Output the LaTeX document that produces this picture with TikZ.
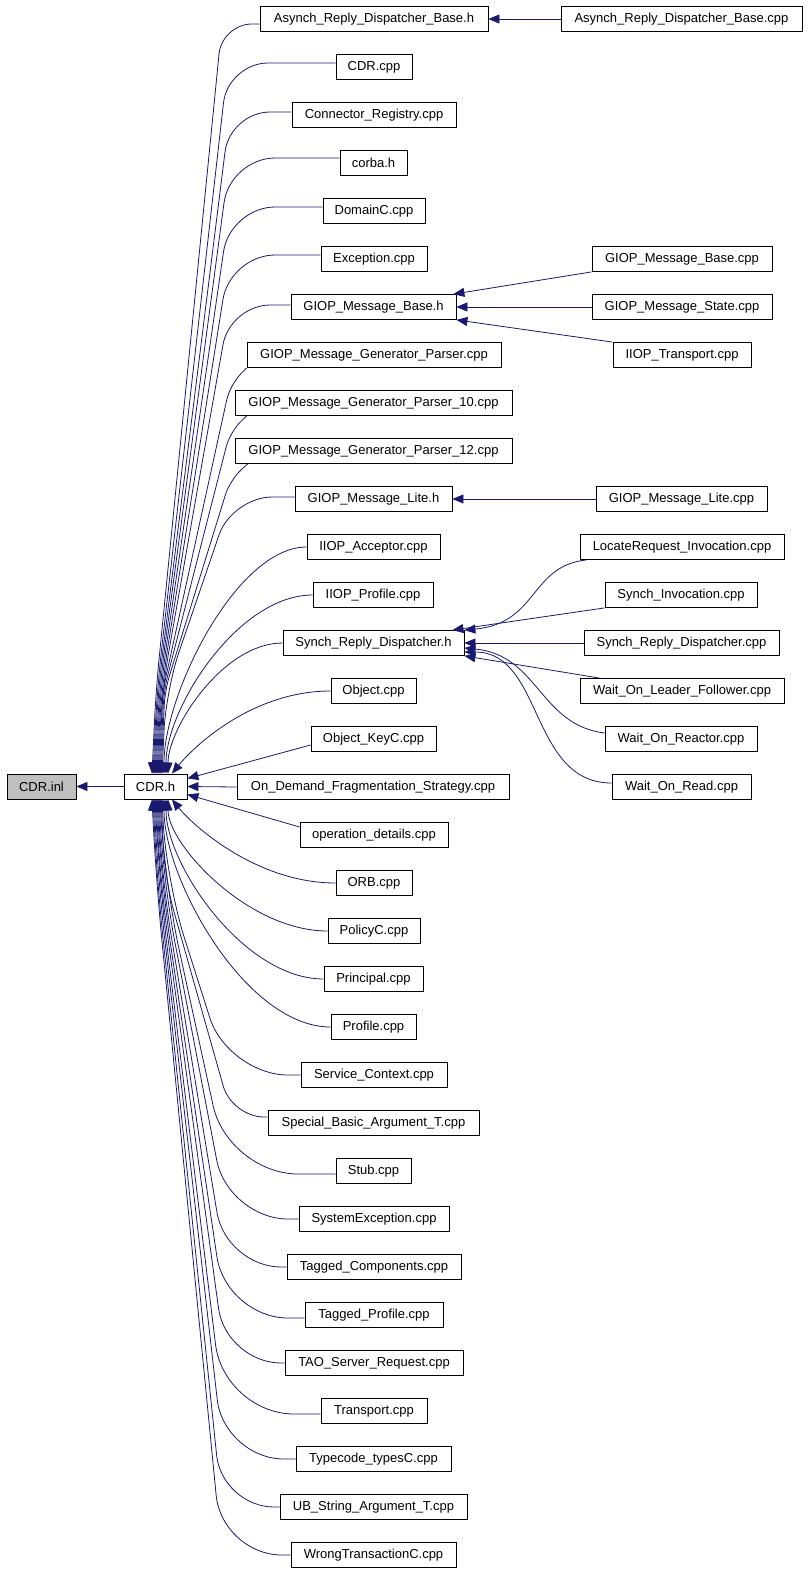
\documentclass[tikz,border=0pt]{standalone}
\usepackage{fontspec}
\setmainfont{Liberation Sans}
\usepackage{tikz}
\usetikzlibrary{arrows.meta}

\definecolor{edgeblue}{HTML}{191970}
\definecolor{rootgray}{HTML}{BFBFBF}

\tikzset{
  file/.style={draw=black,line width=0.8pt,fill=white,minimum height=25pt,inner sep=0pt,font=\fontsize{13}{15}\selectfont},
  dep/.style={draw=edgeblue,line width=0.8pt,-{Triangle[length=11pt,width=9pt]},fill=none},
}

\begin{document}
\begin{tikzpicture}[x=1pt,y=-1pt]
  \useasboundingbox (0,0) rectangle (808,1571);

  %root
  \node[file,fill=rootgray,minimum width=69pt] (cdrinl) at (41.5,786.5) {CDR.inl};
  \node[file,minimum width=63pt] (cdrh) at (155.5,786.5) {CDR.h};

  %middle column
  \node[file,minimum width=228pt] (arh) at (374,19) {Asynch\_Reply\_Dispatcher\_Base.h};
  \node[file,minimum width=76pt] (cdrcpp) at (374,67) {CDR.cpp};
  \node[file,minimum width=164pt] (connreg) at (374,115) {Connector\_Registry.cpp};
  \node[file,minimum width=67pt] (corbah) at (373.5,163) {corba.h};
  \node[file,minimum width=102pt] (domainc) at (374,211) {DomainC.cpp};
  \node[file,minimum width=106pt] (exception) at (374,259) {Exception.cpp};
  \node[file,minimum width=165pt] (gmbh) at (373.5,307) {GIOP\_Message\_Base.h};
  \node[file,minimum width=254pt] (gmgp) at (374,355) {GIOP\_Message\_Generator\_Parser.cpp};
  \node[file,minimum width=277pt] (gmgpten) at (373.5,403) {GIOP\_Message\_Generator\_Parser\_10.cpp};
  \node[file,minimum width=277pt] (gmgptwelve) at (373.5,451) {GIOP\_Message\_Generator\_Parser\_12.cpp};
  \node[file,minimum width=157pt] (gmlh) at (373.5,499) {GIOP\_Message\_Lite.h};
  \node[file,minimum width=133pt] (iiopacc) at (373.5,547) {IIOP\_Acceptor.cpp};
  \node[file,minimum width=120pt] (iioppro) at (373,595) {IIOP\_Profile.cpp};
  \node[file,minimum width=181pt] (srdh) at (373.5,643) {Synch\_Reply\_Dispatcher.h};
  \node[file,minimum width=85pt] (object) at (373.5,691) {Object.cpp};
  \node[file,minimum width=125pt] (objkey) at (373.5,739) {Object\_KeyC.cpp};
  \node[file,minimum width=272pt] (ondemand) at (373,787) {On\_Demand\_Fragmentation\_Strategy.cpp};
  \node[file,minimum width=148pt] (opdet) at (374,835) {operation\_details.cpp};
  \node[file,minimum width=76pt] (orb) at (374,883) {ORB.cpp};
  \node[file,minimum width=92pt] (policyc) at (374,931) {PolicyC.cpp};
  \node[file,minimum width=99pt] (principal) at (373.5,979) {Principal.cpp};
  \node[file,minimum width=85pt] (profile) at (373.5,1027) {Profile.cpp};
  \node[file,minimum width=146pt] (servctx) at (374,1075) {Service\_Context.cpp};
  \node[file,minimum width=211pt] (specbasic) at (373.5,1123) {Special\_Basic\_Argument\_T.cpp};
  \node[file,minimum width=75pt] (stub) at (373.5,1171) {Stub.cpp};
  \node[file,minimum width=150pt] (sysexc) at (374,1219) {SystemException.cpp};
  \node[file,minimum width=174pt] (tagcomp) at (374,1267) {Tagged\_Components.cpp};
  \node[file,minimum width=138pt] (tagpro) at (374,1315) {Tagged\_Profile.cpp};
  \node[file,minimum width=178pt] (taoreq) at (374,1363) {TAO\_Server\_Request.cpp};
  \node[file,minimum width=106pt] (transport) at (374,1411) {Transport.cpp};
  \node[file,minimum width=155pt] (typecode) at (373.5,1459) {Typecode\_typesC.cpp};
  \node[file,minimum width=187pt] (ubstring) at (373.5,1507) {UB\_String\_Argument\_T.cpp};
  \node[file,minimum width=165pt] (wrongtx) at (373.5,1555) {WrongTransactionC.cpp};

  %right column
  \node[file,minimum width=241pt] (arcpp) at (681.5,19) {Asynch\_Reply\_Dispatcher\_Base.cpp};
  \node[file,minimum width=180pt] (gmbcpp) at (682,259) {GIOP\_Message\_Base.cpp};
  \node[file,minimum width=180pt] (gmscpp) at (682,307) {GIOP\_Message\_State.cpp};
  \node[file,minimum width=138pt] (iioptr) at (682,355) {IIOP\_Transport.cpp};
  \node[file,minimum width=171pt] (gmlcpp) at (681.5,499) {GIOP\_Message\_Lite.cpp};
  \node[file,minimum width=204pt] (lri) at (682,547) {LocateRequest\_Invocation.cpp};
  \node[file,minimum width=152pt] (synchinv) at (681,595) {Synch\_Invocation.cpp};
  \node[file,minimum width=195pt] (srdcpp) at (681.5,643) {Synch\_Reply\_Dispatcher.cpp};
  \node[file,minimum width=204pt] (wolf) at (682,691) {Wait\_On\_Leader\_Follower.cpp};
  \node[file,minimum width=152pt] (wreactor) at (681,739) {Wait\_On\_Reactor.cpp};
  \node[file,minimum width=139pt] (wread) at (681.5,787) {Wait\_On\_Read.cpp};

  %straight arrows
  \draw[dep] (cdrh.west) -- (cdrinl.east);
  \draw[dep] (ondemand.west) -- (cdrh.east);
  \draw[dep] ([yshift=-6pt]objkey.west) -- ([yshift=8pt]cdrh.east);
  \draw[dep] ([yshift=8pt]opdet.west) -- ([yshift=-8pt]cdrh.east);
  \draw[dep] (arcpp.west) -- (arh.east);
  \draw[dep] (gmbcpp.south west) -- ([xshift=-3pt]gmbh.north east);
  \draw[dep] (gmscpp.west) -- (gmbh.east);
  \draw[dep] (iioptr.north west) -- (gmbh.south east);
  \draw[dep] (gmlcpp.west) -- (gmlh.east);
  \draw[dep] (synchinv.south west) -- ([xshift=-12pt]srdh.north east);
  \draw[dep] (srdcpp.west) -- (srdh.east);
  \draw[dep] ([xshift=20pt]wolf.north west) -- (srdh.south east);

  %curved arrows into Synch_Reply_Dispatcher.h
  \draw[dep] ([xshift=7pt]lri.south west) .. controls +(-57,6) and +(74,-7) .. (srdh.north east);
  \draw[dep] ([yshift=6pt]wreactor.west) .. controls +(-65,-8) and +(74,7) .. ([yshift=-5pt]srdh.east);
  \draw[dep] ([yshift=4pt]wread.west) .. controls +(-82,0) and +(79,0) .. ([yshift=-9pt]srdh.east);

  %long arrows into CDR.h from above
  \draw[dep,rounded corners=30pt] ([yshift=-5pt]arh.west) -- (222,24) -- (156,690) -- ([xshift=-3.5pt]cdrh.north);
  \draw[dep,rounded corners=40pt] ([yshift=4pt]cdrcpp.west) -- (228,63) -- (157,690) -- ([xshift=-2.5pt]cdrh.north);
  \draw[dep,rounded corners=40pt] ([yshift=3pt]connreg.west) -- (230,112) -- (158,690) -- ([xshift=-1.5pt]cdrh.north);
  \draw[dep,rounded corners=45pt] ([yshift=5pt]corbah.west) -- (230,158) -- (159,690) -- ([xshift=-0.5pt]cdrh.north);
  \draw[dep,rounded corners=45pt] ([yshift=4pt]domainc.west) -- (230,207) -- (160,690) -- ([xshift=0.5pt]cdrh.north);
  \draw[dep,rounded corners=45pt] ([yshift=4pt]exception.west) -- (230,255) -- (161,690) -- ([xshift=1.5pt]cdrh.north);
  \draw[dep,rounded corners=40pt] ([yshift=2pt]gmbh.west) -- (230,305) -- (162,690) -- ([xshift=2.5pt]cdrh.north);
  \draw[dep,rounded corners=15pt] (gmgp.south west) -- (230,385) -- (163,690) -- ([xshift=3.5pt]cdrh.north);
  \draw[dep,rounded corners=15pt] ([xshift=12pt]gmgpten.south west) -- (230,432) -- (164,690) -- ([xshift=4.5pt]cdrh.north);
  \draw[dep,rounded corners=15pt] ([xshift=13pt]gmgptwelve.south west) -- (230,480) -- (165,690) -- ([xshift=5.5pt]cdrh.north);
  \draw[dep,rounded corners=40pt] ([yshift=2pt]gmlh.west) -- (232,497) -- (166,690) -- ([xshift=6.5pt]cdrh.north);

  %short arrows into CDR.h from above
  \draw[dep] (iiopacc.west) .. controls +(-70,0) and +(0,-80) .. ([xshift=8.5pt]cdrh.north);
  \draw[dep] (iioppro.west) .. controls +(-75,0) and +(0,-65) .. ([xshift=10.5pt]cdrh.north);
  \draw[dep] (srdh.west) .. controls +(-60,0) and +(0,-45) .. ([xshift=12.5pt]cdrh.north);
  \draw[dep] (object.west) .. controls +(-80,0) and +(20,-25) .. ([xshift=16.5pt]cdrh.north);

  %short arrows into CDR.h from below
  \draw[dep] (orb.west) .. controls +(-80,0) and +(20,25) .. ([xshift=16.5pt]cdrh.south);
  \draw[dep] (policyc.west) .. controls +(-80,0) and +(0,45) .. ([xshift=12.5pt]cdrh.south);
  \draw[dep] (principal.west) .. controls +(-80,0) and +(0,65) .. ([xshift=10.5pt]cdrh.south);
  \draw[dep] (profile.west) .. controls +(-85,0) and +(0,80) .. ([xshift=8.5pt]cdrh.south);

  %long arrows into CDR.h from below
  \draw[dep,rounded corners=60pt] (servctx.west) -- (228,1075) -- (166,880) -- ([xshift=6.5pt]cdrh.south);
  \draw[dep,rounded corners=32pt] ([yshift=6pt]specbasic.west) -- (232,1117) -- (165,880) -- ([xshift=5.5pt]cdrh.south);
  \draw[dep,rounded corners=70pt] ([yshift=-3pt]stub.west) -- (228,1174) -- (164,880) -- ([xshift=4.5pt]cdrh.south);
  \draw[dep,rounded corners=60pt] (sysexc.west) -- (228,1219) -- (163,880) -- ([xshift=3.5pt]cdrh.south);
  \draw[dep,rounded corners=55pt] (tagcomp.west) -- (226,1267) -- (162,880) -- ([xshift=2.5pt]cdrh.south);
  \draw[dep,rounded corners=62pt] ([yshift=-3pt]tagpro.west) -- (226,1318) -- (161,880) -- ([xshift=1.5pt]cdrh.south);
  \draw[dep,rounded corners=55pt] (taoreq.west) -- (226,1363) -- (160,880) -- ([xshift=0.5pt]cdrh.south);
  \draw[dep,rounded corners=70pt] ([yshift=-3pt]transport.west) -- (224,1414) -- (159,880) -- ([xshift=-0.5pt]cdrh.south);
  \draw[dep,rounded corners=60pt] (typecode.west) -- (224,1459) -- (158,880) -- ([xshift=-1.5pt]cdrh.south);
  \draw[dep,rounded corners=52pt] (ubstring.west) -- (222,1507) -- (157,880) -- ([xshift=-2.5pt]cdrh.south);
  \draw[dep,rounded corners=60pt] (wrongtx.west) -- (222,1555) -- (156,880) -- ([xshift=-3.5pt]cdrh.south);
\end{tikzpicture}
\end{document}
